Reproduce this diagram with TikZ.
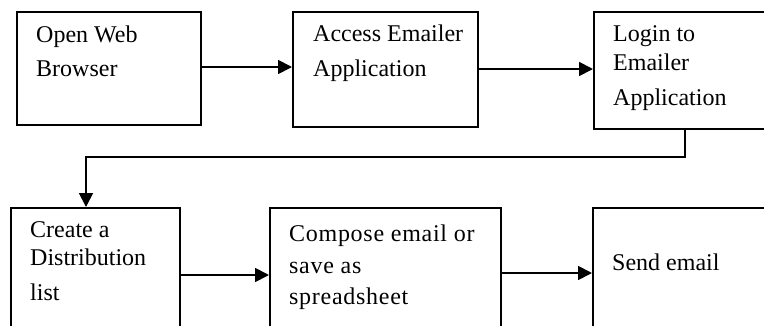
\documentclass[tikz,border=0pt]{standalone}
\usepackage{fontspec}
\setmainfont{Liberation Serif}
\usetikzlibrary{arrows.meta}
\begin{document}
\begin{tikzpicture}[x=1pt,y=-1pt,
  box/.style={draw=black,line width=1.8pt,rectangle,inner sep=0pt,anchor=north west},
  txt/.style={anchor=base west,inner sep=0pt,font=\fontsize{24}{24}\selectfont},
  wide/.style={font=\fontsize{24}{24}\selectfont\addfontfeature{LetterSpace=3}},
  conn/.style={draw=black,line width=1.8pt,-{Triangle[length=14pt,width=14pt]}}]
\useasboundingbox (0,0) rectangle (764,325);
\clip (0,0) rectangle (764,325);
\fill[white] (0,0) rectangle (764,325);
% boxes
\node[box,minimum width=184pt,minimum height=113pt] (b1) at (16,11) {};
\node[box,minimum width=185pt,minimum height=115pt] (b2) at (292,11) {};
\node[box,minimum width=190pt,minimum height=117pt] (b3) at (593,11) {};
\node[box,minimum width=169pt,minimum height=140pt] (b4) at (10,207) {};
\node[box,minimum width=231pt,minimum height=140pt] (b5) at (269,207) {};
\node[box,minimum width=190pt,minimum height=140pt] (b6) at (592,207) {};
% texts
\node[txt] (t1a) at (36,42) {Open Web};
\node[txt] (t1b) at (36,76) {Browser};
\node[txt] (t2a) at (313,41) {Access Emailer};
\node[txt] (t2b) at (313,76) {Application};
\node[txt] (t3a) at (613,41) {Login to};
\node[txt] (t3b) at (613,70) {Emailer};
\node[txt] (t3c) at (613,105) {Application};
\node[txt] (t4a) at (30,237) {Create a};
\node[txt] (t4b) at (30,265) {Distribution};
\node[txt] (t4c) at (30,300) {list};
\node[txt,wide] (t5a) at (289,241) {Compose email or};
\node[txt,wide] (t5b) at (289,273) {save as};
\node[txt,wide] (t5c) at (289,304) {spreadsheet};
\node[txt] (t6a) at (612,270) {Send email};
% connectors
\coordinate (c1) at (685,157);
\coordinate (c2) at (86,157);
\draw[conn] (b1.east |- 0,67) -- (b2.west |- 0,67);
\draw[conn] (b2.east |- 0,69) -- (b3.west |- 0,69);
\draw[conn] (b3.south -| c1) -- (c1) -- (c2) -- (c2 |- b4.north);
\draw[conn] (b4.east |- 0,275) -- (b5.west |- 0,275);
\draw[conn] (b5.east |- 0,273) -- (b6.west |- 0,273);
\end{tikzpicture}
\end{document}
